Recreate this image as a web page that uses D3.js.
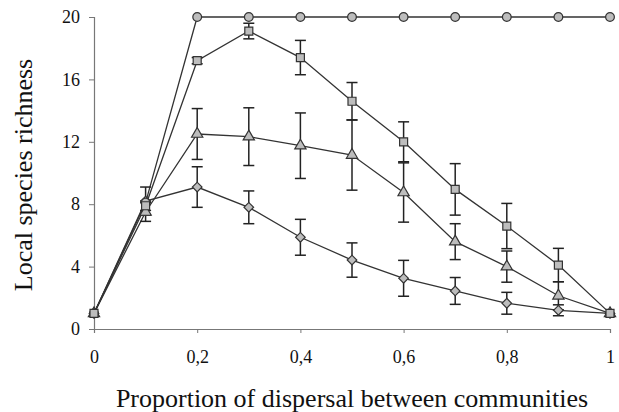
<!DOCTYPE html>
<html><head><meta charset="utf-8">
<script src="https://cdn.jsdelivr.net/npm/d3@7"></script>
<style>body{margin:0;background:#fff}svg{display:block}</style>
</head><body>
<svg id="c" width="619" height="412"></svg>
<script>
const xValues = [0,0.1,0.2,0.3,0.4,0.5,0.6,0.7,0.8,0.9,1];
const xTicks = [0,0.2,0.4,0.6,0.8,1];
const xTickLabels = ["0","0,2","0,4","0,6","0,8","1"];
const yTicks = [0,4,8,12,16,20];
const circleMean = [1,8.1,20,20,20,20,20,20,20,20,20];
const squareMean = [1,7.9,17.2,19.1,17.4,14.6,12.0,8.95,6.6,4.1,1];
const squareErr  = [0,0.3,0.2,0.5,1.1,1.2,1.28,1.65,1.45,1.07,0];
const triangleMean = [1,7.5,12.5,12.33,11.75,11.15,8.75,5.6,4.0,2.13,1];
const triangleErr  = [0,0.6,1.63,1.85,2.1,2.25,1.9,1.15,1.0,0.9,0];
const diamondMean = [1,8.2,9.1,7.8,5.88,4.42,3.25,2.44,1.65,1.2,1];
const diamondErr  = [0,0.9,1.3,1.05,1.15,1.1,1.15,0.86,0.7,0.35,0];

const svg = d3.select("#c");
const x = d3.scaleLinear().domain([0,1]).range([94,610]);
const y = d3.scaleLinear().domain([0,20]).range([329,17]);
const font = "Liberation Serif, Times New Roman, serif";

// axes
const xAxis = svg.append("g").attr("transform","translate(0,329)")
  .call(d3.axisBottom(x).tickValues(xTicks).tickFormat((d,i)=>xTickLabels[i]).tickSize(4).tickPadding(17));
const yAxis = svg.append("g").attr("transform","translate(94,0)")
  .call(d3.axisLeft(y).tickValues(yTicks).tickSize(5).tickPadding(9));
[xAxis,yAxis].forEach(g=>{
  g.select(".domain").attr("stroke","#777").attr("stroke-width",1.2);
  g.selectAll(".tick line").attr("stroke","#777");
  g.selectAll("text").attr("font-family",font).attr("font-size",18).attr("fill","#111");
});

svg.append("text").attr("x",352).attr("y",407).attr("text-anchor","middle")
  .attr("font-family",font).attr("font-size",26).attr("fill","#111")
  .text("Proportion of dispersal between communities");
svg.append("text").attr("transform","translate(32,175) rotate(-90)").attr("text-anchor","middle")
  .attr("font-family",font).attr("font-size",26).attr("fill","#111")
  .text("Local species richness");

const series = [
  {mean: circleMean, err: null, shape: "circle"},
  {mean: squareMean, err: squareErr, shape: "square"},
  {mean: triangleMean, err: triangleErr, shape: "triangle"},
  {mean: diamondMean, err: diamondErr, shape: "diamond"}
];
const line = d3.line().x((d,i)=>x(xValues[i])).y(d=>y(d));
series.forEach(s=>{
  svg.append("path").datum(s.mean).attr("d",line).attr("fill","none")
    .attr("stroke","#333").attr("stroke-width",1.3);
});
// error bars
const cap = 5.5;
series.forEach(s=>{
  if(!s.err) return;
  const g = svg.append("g").attr("stroke","#222").attr("stroke-width",1.5);
  xValues.forEach((xv,i)=>{
    const e = s.err[i]; if(!e) return;
    const cx = x(xv), t = y(s.mean[i]+e), b = y(s.mean[i]-e);
    g.append("line").attr("x1",cx).attr("x2",cx).attr("y1",t).attr("y2",b);
    g.append("line").attr("x1",cx-cap).attr("x2",cx+cap).attr("y1",t).attr("y2",t);
    g.append("line").attr("x1",cx-cap).attr("x2",cx+cap).attr("y1",b).attr("y2",b);
  });
});
// markers (drawn so squares end on top, as in the reference)
const symType = {circle:d3.symbolCircle, square:d3.symbolSquare, triangle:d3.symbolTriangle, diamond:d3.symbolSquare};
const symSize = {circle:60, square:64, triangle:55, diamond:46};
const symRot = {circle:0, square:0, triangle:0, diamond:45};
[series[3], series[2], series[0], series[1]].forEach(s=>{
  const sym = d3.symbol().type(symType[s.shape]).size(symSize[s.shape]);
  svg.append("g").selectAll("path").data(s.mean).join("path")
    .attr("d",sym)
    .attr("transform",(d,i)=>`translate(${x(xValues[i])},${y(d)}) rotate(${symRot[s.shape]})`)
    .attr("fill","#bdbdbd").attr("stroke","#333").attr("stroke-width",1.2);
});
</script>
</body></html>
